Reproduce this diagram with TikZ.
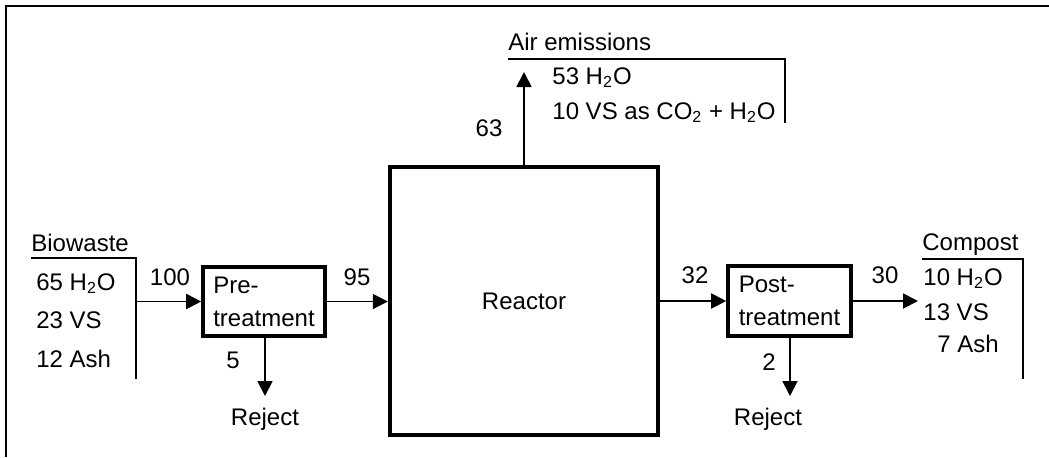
\documentclass[tikz,border=0pt]{standalone}
\usepackage{fontspec}
\setmainfont{Liberation Sans}
\usetikzlibrary{arrows.meta}
\tikzset{
  txt/.style={font=\fontsize{12}{14}\selectfont, inner sep=0pt, anchor=base west},
  ctxt/.style={font=\fontsize{12}{14}\selectfont, inner sep=0pt, anchor=base},
  unitbox/.style={draw, line width=1.8pt, inner sep=0pt, align=left,
    font=\fontsize{12}{16.5}\selectfont},
  flow/.style={line width=0.9pt, -{Triangle[length=7.5pt,width=7.5pt]}},
  tick/.style={line width=0.9pt},
  frame/.style={line width=1.2pt}
}
\begin{document}
\begin{tikzpicture}[x=0.5pt,y=-0.5pt]
\useasboundingbox (0,0) rectangle (1049,457);
% outer frame (cropped)
\draw[frame] (6,457) -- (6,6) -- (1049,6);

% boxes
\node[unitbox, minimum width=61pt, minimum height=34.5pt] (pre) at (264,301.5) {Pre-\\treatment};
\node[unitbox, minimum width=61.5pt, minimum height=35pt] (post) at (789.5,301) {Post-\\treatment};
\node[draw, line width=2.2pt, minimum width=134pt, minimum height=134pt, inner sep=0pt,
      font=\fontsize{12}{14}\selectfont] (reactor) at (524,301) {Reactor};

% Biowaste input
\node[txt] (bw) at (31,251) {Biowaste};
\coordinate (bwtl) at (31,258);
\coordinate (bwtr) at (136,258);
\coordinate (bwbot) at (136,379);
\draw[tick] (bwtl) -- (bwtr) -- (bwbot);
\node[txt] (bw1) at (36,290) {65 H\textsubscript{2}O};
\node[txt] (bw2) at (36,328) {23 VS};
\node[txt] (bw3) at (36,367) {12 Ash};
\coordinate (bwout) at (136,301.5);
\draw[flow] (bwout) -- (pre.west);
\node[ctxt] (l100) at (170,285) {100};

% pre -> reactor
\draw[flow] (pre.east) -- (pre.east -| reactor.west);
\node[ctxt] (l95) at (357,285) {95};

% pre reject
\node[ctxt] (rej1) at (265,425) {Reject};
\coordinate (rej1t) at (265,396);
\draw[flow] (pre.south -| rej1t) -- (rej1t);
\node[ctxt] (l5) at (233,368) {5};

% air emissions
\coordinate (airt) at (524,72);
\draw[flow] (reactor.north) -- (airt);
\node[ctxt] (l63) at (489,136) {63};
\node[txt] (air) at (508,50) {Air emissions};
\coordinate (airtl) at (508,59);
\coordinate (airtr) at (785,59);
\coordinate (airbot) at (785,123);
\draw[tick] (airtl) -- (airtr) -- (airbot);
\node[txt] (air1) at (552,84) {53 H\textsubscript{2}O};
\node[txt] (air2) at (552,119) {10 VS as CO\textsubscript{2} + H\textsubscript{2}O};

% reactor -> post
\draw[flow] (reactor.east |- post.west) -- (post.west);
\node[ctxt] (l32) at (695,283) {32};

% post reject
\node[ctxt] (rej2) at (768,425) {Reject};
\coordinate (rej2t) at (790,396);
\draw[flow] (post.south -| rej2t) -- (rej2t);
\node[ctxt] (l2) at (769,370) {2};

% compost output
\coordinate (cpin) at (918,301);
\draw[flow] (post.east) -- (cpin);
\node[ctxt] (l30) at (885,283) {30};
\node[txt] (cp) at (922,250) {Compost};
\coordinate (cptl) at (922,259);
\coordinate (cptr) at (1023,259);
\coordinate (cpbot) at (1023,379);
\draw[tick] (cptl) -- (cptr) -- (cpbot);
\node[txt] (cp1) at (923,285) {10 H\textsubscript{2}O};
\node[txt] (cp2) at (923,320) {13 VS};
\node[txt] (cp3) at (937,352) {7 Ash};
\end{tikzpicture}
\end{document}
